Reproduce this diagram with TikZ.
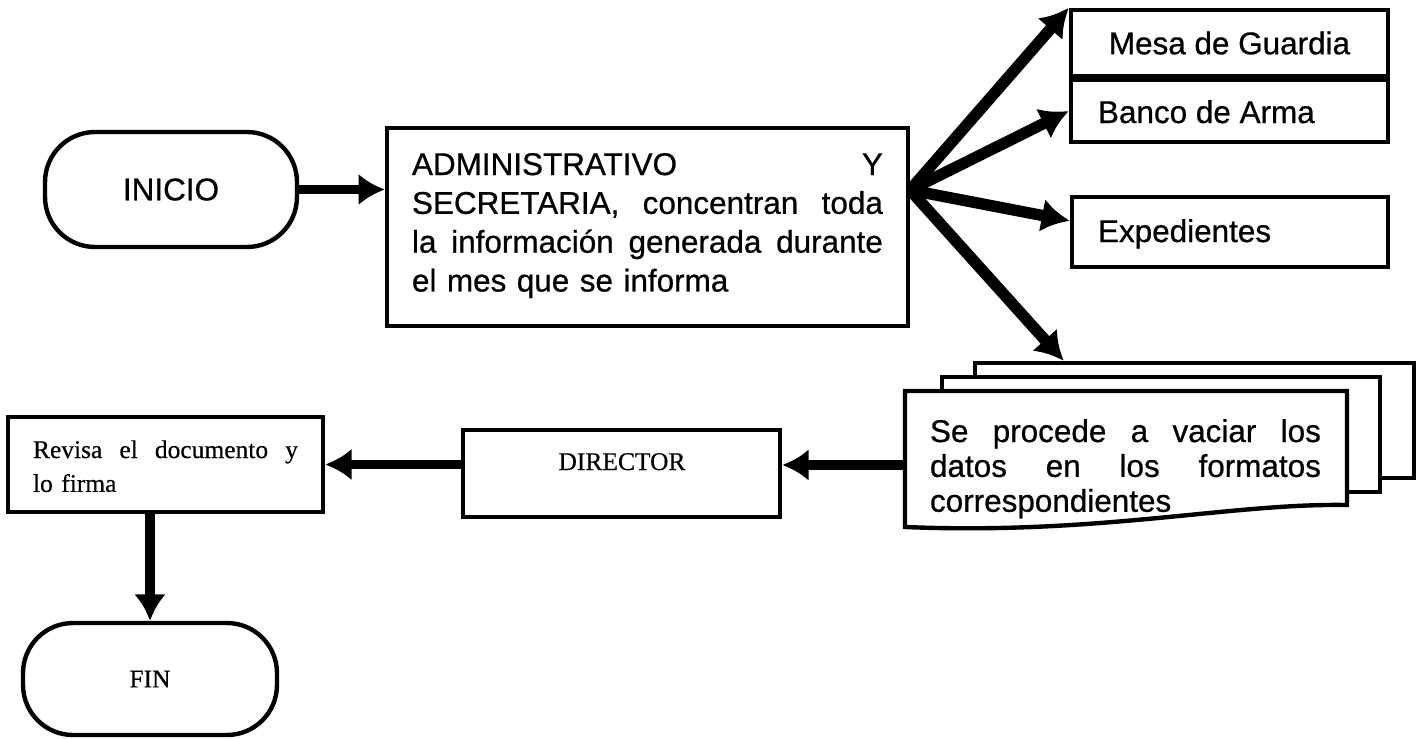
\documentclass[tikz,border=0pt]{standalone}
\usepackage{fontspec}
\setmainfont{Liberation Sans}[FakeBold=0.7]
\newfontfamily\timesf{Liberation Serif}[FakeBold=0.5]
\usetikzlibrary{arrows.meta,calc}
\tikzset{
  boxl/.style={draw, line width=2.5pt, fill=white, inner sep=0pt},
  lbl/.style={inner sep=0pt, outer sep=0pt},
  arialf/.style={font=\fontsize{17.9}{22.1}\selectfont},
  docf/.style={font=\fontsize{17.9}{19.85}\selectfont},
  tnr/.style={font=\timesf\fontsize{14.5}{19.3}\selectfont},
  flow/.style={line width=5.5pt, -{Latex[length=15pt,width=18pt]}},
  fan/.style={line width=6.5pt, -{Latex[length=16pt,width=19pt]}},
}
\begin{document}
\begin{tikzpicture}[x=0.02cm,y=-0.02cm]
\path[use as bounding box, fill=white] (0,0) rectangle (1426,738);

% start
\node[boxl, rounded corners=1cm, minimum width=5.04cm, minimum height=2.3cm, arialf] (inicio) at (171,189.5) {INICIO};

% admin box
\node[boxl, minimum width=10.42cm, minimum height=3.96cm] (admin) at (647.5,227) {};
\node[lbl, arialf, anchor=base west, text width=9.42cm, align=left] (admintext) at (412,175)
  {\hbox to 9.42cm{ADMINISTRATIVO\hfill Y}\par
   \hbox to 9.42cm{SECRETARIA,\hfill concentran\hfill toda}\par
   \hbox to 9.42cm{la\hfill información\hfill generada\hfill durante}\par
   el mes que se informa};

% right boxes
\node[boxl, minimum width=6.34cm, minimum height=1.32cm, arialf] (mesa) at (1229.5,43) {Mesa de Guardia};
\node[boxl, minimum width=6.34cm, minimum height=1.24cm] (banco) at (1229.5,111) {};
\node[lbl, arialf, anchor=base west] (bancotext) at (1098,123) {Banco de Arma};
\node[boxl, minimum width=6.32cm, minimum height=1.4cm] (exp) at (1230,232) {};
\node[lbl, arialf, anchor=base west] (exptext) at (1098,242) {Expedientes};

% document stack
\node[boxl, minimum width=8.78cm, minimum height=2.3cm] (back) at (1194.5,420.5) {};
\node[boxl, minimum width=8.76cm, minimum height=2.3cm] (middle) at (1161,434.5) {};
\draw[line width=2.5pt, fill=white] (905,391) -- (1347,391) -- (1347,505)
  .. controls (1230,503) and (1100,535) .. (905,527) -- cycle;
\node[lbl, docf, anchor=base west, text width=7.82cm, align=left] (doctext) at (930,442)
  {\hbox to 7.82cm{Se\hfill procede\hfill a\hfill vaciar\hfill los}\par
   \hbox to 7.82cm{datos\hfill en\hfill los\hfill formatos}\par
   correspondientes};
\coordinate (docout) at (905,465);

% director
\node[boxl, minimum width=6.34cm, minimum height=1.74cm] (director) at (621.5,473.5) {};
\node[lbl, tnr, anchor=base] (dirtext) at (622,470) {DIRECTOR};

% revisa
\node[boxl, minimum width=6.3cm, minimum height=1.9cm] (revisa) at (165.5,464.5) {};
\node[lbl, tnr, anchor=base west, text width=5.3cm, align=left] (revtext) at (33,458)
  {\hbox to 5.3cm{Revisa\hfill el\hfill documento\hfill y}\par lo firma};

% end
\node[boxl, rounded corners=1cm, minimum width=5.08cm, minimum height=2.24cm, tnr] (fin) at (150,679) {FIN};

% connectors
\draw[flow] (inicio.east) -- (inicio.east -| admin.west);
\coordinate (hub) at (910,190);
\draw[fan] (hub) -- (mesa.north west);
\draw[fan] (hub) -- (banco.west);
\draw[fan] (hub) -- (exp.176);
\draw[fan] (hub) -- ($(back.north west)!0.205!(back.north east)$);
\draw[flow] (docout) -- (docout -| director.east);
\draw[flow] (director.west |- revisa.east) -- (revisa.east);
\draw[flow] (fin.north |- revisa.south) -- (fin.north);
\end{tikzpicture}
\end{document}
